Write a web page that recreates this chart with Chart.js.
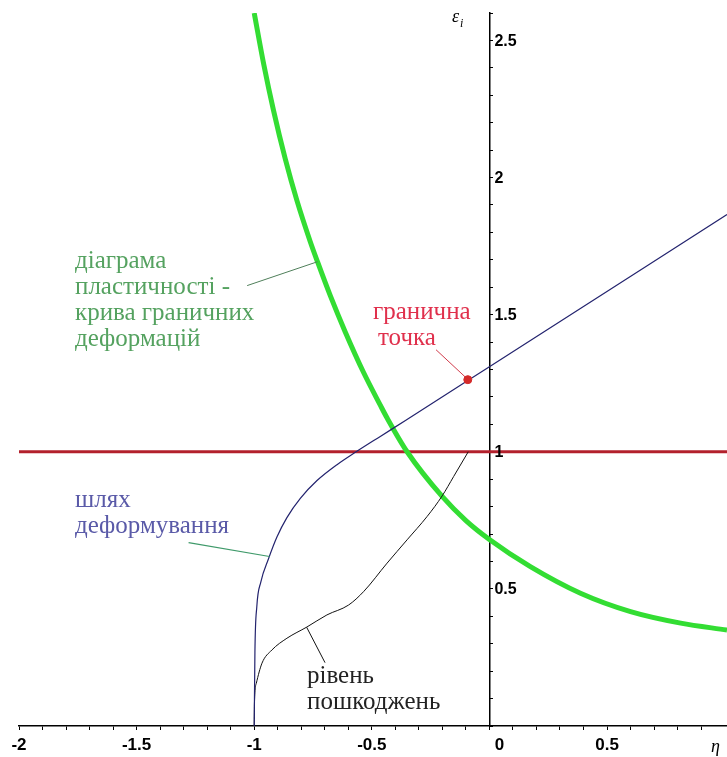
<!DOCTYPE html>
<html>
<head>
<meta charset="utf-8">
<script src="https://cdn.jsdelivr.net/npm/chart.js@4.4.0/dist/chart.umd.min.js"></script>
<style>
  html, body { margin: 0; padding: 0; background: #fff; }
  canvas { display: block; }
</style>
</head>
<body>
<canvas id="plot" width="727" height="757"></canvas>
<script>
// values (eta on x, eps_i on y)
const plastX = [-1.0, -0.96, -0.918, -0.868, -0.818, -0.762, -0.731, -0.677, -0.613, -0.535, -0.464, -0.435, -0.35, -0.201, -0.1, 0.0, 0.174, 0.387, 0.6, 0.813, 1.01];
const plastY = [2.60, 2.415, 2.245, 2.068, 1.915, 1.767, 1.693, 1.570, 1.437, 1.289, 1.170, 1.123, 1.0, 0.837, 0.749, 0.68, 0.581, 0.484, 0.417, 0.375, 0.35];

const pathX = [-1.0, -0.997, -0.989, -0.972, -0.94, -0.903, -0.861, -0.804, -0.733, -0.648, -0.57, -0.464, -0.357, 0.0, 1.01];
const pathY = [0, 0.27, 0.435, 0.525, 0.608, 0.69, 0.76, 0.83, 0.895, 0.953, 0.998, 1.056, 1.114, 1.31, 1.865];

const damageX = [-1.0, -0.999, -0.991, -0.967, -0.925, -0.861, -0.776, -0.691, -0.599, -0.535, -0.435, -0.35, -0.265, -0.201, -0.152, -0.09];
const damageY = [0, 0.083, 0.156, 0.229, 0.277, 0.320, 0.361, 0.405, 0.441, 0.490, 0.594, 0.679, 0.764, 0.839, 0.910, 1.0];

const limitX = [-2, 1.01];
const limitY = [1, 1];

const pointX = [-0.092];
const pointY = [1.263];

// leader lines from the notes to the curves
const leadPlastX = [-1.030, -0.731];
const leadPlastY = [1.606, 1.693];
const leadPathX = [-1.279, -0.935];
const leadPathY = [0.669, 0.618];
const leadDamageX = [-0.777, -0.699];
const leadDamageY = [0.360, 0.231];
const leadPointX = [-0.227, -0.097];
const leadPointY = [1.372, 1.268];

const xTickLabels = ['-2', '-1.5', '-1', '-0.5', '0', '0.5'];
const yTickLabels = ['0.5', '1', '1.5', '2', '2.5'];

const pts = (xs, ys) => xs.map((x, i) => ({x: x, y: ys[i]}));

function line(xs, ys, color, width, order, smooth) {
  return {
    data: pts(xs, ys),
    showLine: true,
    borderColor: color,
    borderWidth: width,
    pointRadius: 0,
    pointHoverRadius: 0,
    fill: false,
    order: order,
    cubicInterpolationMode: smooth ? 'monotone' : 'default',
    tension: 0
  };
}

const decor = {
  id: 'decor',
  afterDraw(chart) {
    const ctx = chart.ctx;
    const sx = chart.scales.x, sy = chart.scales.y;
    const x0 = sx.getPixelForValue(0), y0 = sy.getPixelForValue(0);
    ctx.save();

    // tick labels
    ctx.fillStyle = '#000';
    ctx.font = 'bold 16px "Liberation Sans", Arial, sans-serif';
    ctx.textAlign = 'left';
    ctx.textBaseline = 'middle';
    yTickLabels.forEach(t => ctx.fillText(t, x0 + 5, sy.getPixelForValue(parseFloat(t)) + 1));
    ctx.font = 'bold 17px "Liberation Sans", Arial, sans-serif';
    ctx.textAlign = 'center';
    ctx.textBaseline = 'top';
    xTickLabels.forEach(t => {
      const v = parseFloat(t);
      ctx.fillText(t, sx.getPixelForValue(v) + (v === 0 ? 10 : 0), y0 + 11);
    });

    // axis names
    ctx.textAlign = 'left';
    ctx.textBaseline = 'alphabetic';
    ctx.font = 'italic 18px "Liberation Serif", serif';
    ctx.fillText('ε', 452, 22);
    ctx.font = 'italic 12px "Liberation Serif", serif';
    ctx.fillText('i', 460, 27);
    ctx.font = 'italic 18px "Liberation Serif", serif';
    ctx.fillText('η', 711, 752);

    // notes
    const note = (lines, x, y, color, gap) => {
      ctx.fillStyle = color;
      ctx.font = '25px "Liberation Serif", "Times New Roman", serif';
      lines.forEach((s, i) => ctx.fillText(s, x[i] !== undefined ? x[i] : x[0], y + i * gap));
    };
    note(['діаграма', 'пластичності -', 'крива граничних', 'деформацій'], [75], 268, '#55a260', 26);
    note(['гранична', 'точка'], [373, 378], 319, '#e0304c', 26);
    note(['шлях', 'деформування'], [75], 507, '#5a5aa8', 26);
    note(['рівень', 'пошкоджень'], [307], 683, '#222', 26);
    ctx.restore();
  }
};

new Chart(document.getElementById('plot'), {
  type: 'scatter',
  data: {
    datasets: [
      line(limitX, limitY, '#b3202c', 3, 6, false),
      line(plastX, plastY, '#33dd33', 5, 5, true),
      line(damageX, damageY, '#111', 1, 4, true),
      line(pathX, pathY, '#23236e', 1.2, 3, true),
      line(leadPlastX, leadPlastY, '#4f7f5a', 1, 2, false),
      line(leadPathX, leadPathY, '#3f9a6a', 1.2, 2, false),
      line(leadDamageX, leadDamageY, '#111', 1, 2, false),
      line(leadPointX, leadPointY, '#d03a4a', 1, 2, false),
      {
        data: pts(pointX, pointY),
        pointRadius: 4,
        pointBackgroundColor: '#d42a2a',
        pointBorderColor: '#d42a2a',
        showLine: false,
        order: 0
      }
    ]
  },
  options: {
    responsive: false,
    animation: false,
    layout: { autoPadding: false, padding: { left: 19, right: 0, top: 13, bottom: 27 } },
    plugins: { legend: { display: false }, tooltip: { enabled: false } },
    scales: {
      x: {
        type: 'linear',
        position: 'bottom',
        min: -2,
        max: 1.01,
        ticks: { display: false, stepSize: 0.1 },
        grid: { drawOnChartArea: false, color: '#000', tickLength: 4 },
        border: { display: true, color: '#000', width: 1.5 }
      },
      y: {
        type: 'linear',
        position: { x: 0 },
        min: 0,
        max: 2.6,
        afterFit: (scale) => { scale.width = 0; },
        ticks: { display: false, stepSize: 0.1 },
        grid: { drawOnChartArea: false, color: '#000', tickLength: -4 },
        border: { display: true, color: '#000', width: 1.5 }
      }
    }
  },
  plugins: [decor]
});
</script>
</body>
</html>
